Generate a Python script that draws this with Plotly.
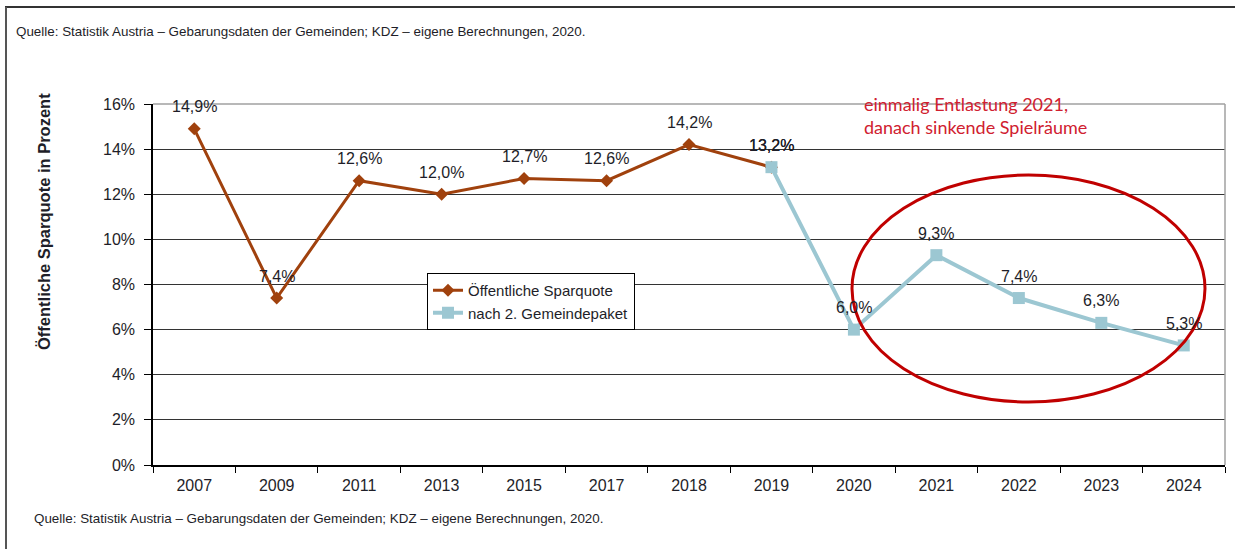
import plotly.graph_objects as go

# ---- data ----
years = ["2007", "2009", "2011", "2013", "2015", "2017", "2018", "2019",
         "2020", "2021", "2022", "2023", "2024"]
sparquote_years = years[:8]
sparquote = [14.9, 7.4, 12.6, 12.0, 12.7, 12.6, 14.2, 13.2]
paket_years = years[7:]
paket = [13.2, 6.0, 9.3, 7.4, 6.3, 5.3]
y_ticks = [0, 2, 4, 6, 8, 10, 12, 14, 16]

name1 = "Öffentliche Sparquote"
name2 = "nach 2. Gemeindepaket"
source = "Quelle: Statistik Austria – Gebarungsdaten der Gemeinden; KDZ – eigene Berechnungen, 2020."
note = "einmalig Entlastung 2021,<br>danach sinkende Spielräume"
y_title = "Öffentliche Sparquote in Prozent"

BROWN = "#A0410D"
BLUE = "#9CC7D2"
FONT = "Liberation Sans, Arial, sans-serif"
TEXT = "#1E1E28"

W, H = 1235, 549
L, R, T, B = 153, 10, 104, 84
PW, PH = W - L - R, H - T - B


def px(x):
    return (x - L) / PW


def py(y):
    return (H - B - y) / PH


fig = go.Figure()
fig.add_trace(go.Scatter(
    x=sparquote_years, y=sparquote, name=name1, mode="lines+markers",
    line=dict(color=BROWN, width=3),
    marker=dict(symbol="diamond", size=10, color=BROWN),
))
fig.add_trace(go.Scatter(
    x=paket_years, y=paket, name=name2, mode="lines+markers",
    line=dict(color=BLUE, width=4),
    marker=dict(symbol="square", size=12, color=BLUE),
))

annotations = []
for xs, ys in ((sparquote_years, sparquote), (paket_years, paket)):
    for xv, yv in zip(xs, ys):
        annotations.append(dict(
            x=years.index(xv), y=yv, xref="x", yref="y", showarrow=False,
            yshift=22, text=f"{yv:.1f}%".replace(".", ","),
            font=dict(family=FONT, size=16, color=TEXT),
        ))

annotations += [
    dict(x=px(14), y=py(32), xref="paper", yref="paper", xanchor="left",
         yanchor="middle", showarrow=False, text=source,
         font=dict(family=FONT, size=13.4, color=TEXT)),
    dict(x=px(32), y=py(518), xref="paper", yref="paper", xanchor="left",
         yanchor="middle", showarrow=False, text=source,
         font=dict(family=FONT, size=13.4, color=TEXT)),
    dict(x=px(44), y=py(222), xref="paper", yref="paper", xanchor="center",
         yanchor="middle", showarrow=False, text=f"<b>{y_title}</b>",
         textangle=-90, font=dict(family=FONT, size=16.5, color=TEXT)),
    dict(x=px(862), y=py(91), xref="paper", yref="paper", xanchor="left",
         yanchor="top", showarrow=False, text=note, align="left",
         font=dict(family="Lato, Open Sans, sans-serif", size=18, color="#D0202F")),
]

shapes = [
    # outer frame
    dict(type="line", xref="paper", yref="paper", x0=px(5), x1=px(1235),
         y0=py(7), y1=py(7), line=dict(color="#333333", width=2)),
    dict(type="line", xref="paper", yref="paper", x0=px(6), x1=px(6),
         y0=py(7), y1=py(549), line=dict(color="#555555", width=2)),
    # plot area top and right border
    dict(type="line", xref="paper", yref="paper", x0=0, x1=1, y0=1, y1=1,
         line=dict(color="#A0A0A0", width=1.5)),
    dict(type="line", xref="paper", yref="paper", x0=1, x1=1, y0=0, y1=1,
         line=dict(color="#A0A0A0", width=1.5)),
    # highlight ellipse
    dict(type="circle", xref="paper", yref="paper", x0=px(852), x1=px(1205),
         y0=py(402), y1=py(175), line=dict(color="#C00000", width=3)),
]

fig.update_layout(
    width=W, height=H,
    margin=dict(l=L, r=R, t=T, b=B),
    paper_bgcolor="white", plot_bgcolor="white",
    font=dict(family=FONT, size=16, color=TEXT),
    showlegend=True,
    legend=dict(x=px(427), y=py(273), xanchor="left", yanchor="top",
                bgcolor="white", bordercolor="black", borderwidth=1,
                font=dict(family=FONT, size=15, color=TEXT),
                tracegroupgap=0, itemwidth=30),
    annotations=annotations,
    shapes=shapes,
)
fig.update_xaxes(
    type="category", categoryorder="array", categoryarray=years,
    range=[-0.5, len(years) - 0.5],
    showline=True, linecolor="black", linewidth=1.5,
    ticks="outside", tickson="boundaries", ticklen=6, tickcolor="black",
    showgrid=False, tickfont=dict(family=FONT, size=16, color=TEXT),
    ticklabelstandoff=5,
)
fig.update_yaxes(
    range=[0, 16], tickvals=y_ticks, ticktext=[f"{v}%" for v in y_ticks],
    showline=True, linecolor="black", linewidth=1.5,
    ticks="outside", ticklen=7, tickcolor="black",
    showgrid=True, gridcolor="#333333", gridwidth=1, zeroline=False,
    tickfont=dict(family=FONT, size=16, color=TEXT),
    ticklabelstandoff=6,
)

fig.write_html("out.html", config={"displayModeBar": False},
               post_script="document.body.style.margin='0';")
